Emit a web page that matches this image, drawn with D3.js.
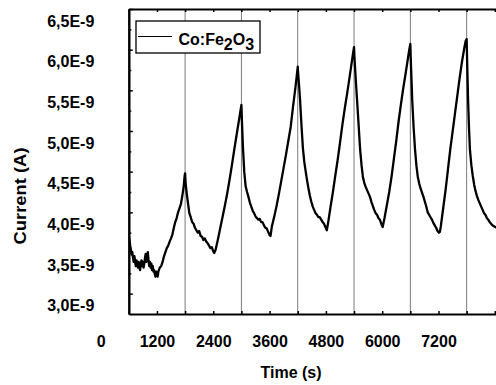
<!DOCTYPE html>
<html>
<head>
<meta charset="utf-8">
<script src="https://cdn.jsdelivr.net/npm/d3@7"></script>
<style>
	body { margin: 0; background: #fff; }
	svg { display: block; }
	text { font-family: 'Liberation Sans', Arial, sans-serif; font-weight: bold; font-size: 16px; fill: #000; }
</style>
</head>
<body>
<div id="vis"></div>
<script>
// DATA (time in s, current in nA = E-9 A)
let timeS = [
	600, 615, 630, 645, 660, 675, 690, 705, 720, 735, 750, 765, 780, 795, 810, 825, 840, 855, 870, 885,
	900, 915, 930, 945, 960, 975, 990, 1005, 1020, 1035, 1050, 1065, 1080, 1095, 1110, 1125, 1140, 1155, 1170, 1185,
	1200, 1215, 1230, 1260, 1290, 1320, 1350, 1380, 1410, 1440, 1470, 1500, 1530, 1560, 1590, 1620, 1650, 1680, 1710, 1740,
	1770, 1790, 1800, 1810, 1830, 1860, 1890, 1920, 1950, 1980, 2010, 2040, 2070, 2100, 2130, 2160, 2190, 2220, 2250, 2280,
	2310, 2340, 2370, 2400, 2420, 2450, 2500, 2550, 2600, 2650, 2700, 2750, 2800, 2850, 2900, 2950, 2980, 3000, 3010, 3030,
	3060, 3090, 3120, 3150, 3180, 3210, 3240, 3270, 3300, 3330, 3360, 3390, 3420, 3450, 3480, 3510, 3540, 3570, 3600, 3620,
	3650, 3700, 3750, 3800, 3850, 3900, 3950, 4000, 4050, 4100, 4150, 4180, 4200, 4210, 4230, 4250, 4280, 4310, 4340, 4370,
	4400, 4430, 4460, 4490, 4520, 4550, 4580, 4610, 4640, 4670, 4700, 4730, 4760, 4790, 4820, 4850, 4900, 4950, 5000, 5050,
	5100, 5150, 5200, 5250, 5300, 5350, 5380, 5400, 5410, 5440, 5470, 5500, 5530, 5560, 5590, 5620, 5650, 5680, 5710, 5740,
	5770, 5800, 5830, 5860, 5890, 5920, 5950, 5980, 6010, 6050, 6100, 6150, 6200, 6250, 6300, 6350, 6400, 6450, 6500, 6550,
	6580, 6600, 6610, 6640, 6670, 6700, 6730, 6760, 6790, 6820, 6850, 6880, 6910, 6940, 6970, 7000, 7030, 7060, 7090, 7120,
	7150, 7180, 7210, 7230, 7250, 7300, 7350, 7400, 7450, 7500, 7550, 7600, 7650, 7700, 7750, 7780, 7800, 7810, 7830, 7850,
	7870, 7900, 7930, 7960, 7990, 8020, 8050, 8080, 8110, 8140, 8170, 8200, 8230, 8260, 8290, 8320, 8350, 8380, 8410, 8440
];
let currentNA = [
	3.71, 3.66, 3.59, 3.54, 3.48, 3.51, 3.44, 3.39, 3.46, 3.39, 3.34, 3.41, 3.37, 3.32, 3.39, 3.34, 3.29, 3.37, 3.41, 3.34,
	3.39, 3.32, 3.37, 3.44, 3.49, 3.39, 3.46, 3.51, 3.41, 3.34, 3.39, 3.32, 3.37, 3.29, 3.34, 3.27, 3.29, 3.24, 3.21, 3.27,
	3.23, 3.21, 3.27, 3.32, 3.34, 3.39, 3.46, 3.51, 3.56, 3.59, 3.64, 3.68, 3.73, 3.81, 3.88, 3.93, 4.00, 4.05, 4.10, 4.20,
	4.32, 4.45, 4.48, 4.37, 4.25, 4.12, 3.99, 3.94, 3.88, 3.86, 3.81, 3.78, 3.75, 3.77, 3.71, 3.70, 3.66, 3.68, 3.64, 3.62,
	3.59, 3.56, 3.57, 3.52, 3.50, 3.54, 3.67, 3.81, 3.95, 4.09, 4.24, 4.41, 4.59, 4.78, 4.96, 5.14, 5.25, 5.32, 5.14, 4.83,
	4.50, 4.32, 4.25, 4.19, 4.12, 4.07, 4.02, 3.99, 3.95, 3.93, 3.91, 3.92, 3.88, 3.88, 3.84, 3.81, 3.80, 3.76, 3.72, 3.71,
	3.83, 3.95, 4.08, 4.23, 4.39, 4.55, 4.71, 4.88, 5.05, 5.30, 5.53, 5.68, 5.79, 5.70, 5.55, 5.38, 5.07, 4.79, 4.62, 4.50,
	4.39, 4.29, 4.20, 4.13, 4.07, 4.03, 3.99, 3.97, 3.94, 3.94, 3.91, 3.88, 3.86, 3.82, 3.78, 3.88, 4.07, 4.25, 4.45, 4.64,
	4.85, 5.07, 5.27, 5.45, 5.64, 5.84, 5.96, 6.03, 5.90, 5.60, 5.33, 5.05, 4.77, 4.58, 4.43, 4.36, 4.31, 4.27, 4.23, 4.19,
	4.13, 4.08, 4.03, 3.99, 3.97, 3.93, 3.91, 3.86, 3.82, 3.93, 4.09, 4.25, 4.44, 4.66, 4.88, 5.12, 5.33, 5.53, 5.71, 5.90,
	6.01, 6.07, 5.87, 5.38, 5.04, 4.77, 4.57, 4.43, 4.35, 4.29, 4.24, 4.19, 4.13, 4.07, 4.00, 3.97, 3.94, 3.91, 3.87, 3.84,
	3.81, 3.77, 3.75, 3.76, 3.83, 4.05, 4.27, 4.52, 4.77, 4.99, 5.21, 5.43, 5.65, 5.85, 6.02, 6.11, 6.13, 5.87, 5.38, 5.04,
	4.77, 4.58, 4.45, 4.34, 4.26, 4.20, 4.15, 4.11, 4.07, 4.03, 3.99, 3.97, 3.93, 3.91, 3.88, 3.86, 3.84, 3.83, 3.82, 3.81
];
let lightOffTimes = [1800, 3000, 4200, 5400, 6600, 7800];
let xTickLabels = [0, 1200, 2400, 3600, 4800, 6000, 7200];
let yTickLabels = [3.0, 3.5, 4.0, 4.5, 5.0, 5.5, 6.0, 6.5];
let xLabel = 'Time (s)',
	yLabel = 'Current (A)';

let chart = () => {
	// PARAMETERS
	let width = 496,
		height = 385,
		plot = { left: 128.8, right: 499.5, top: 9, bottom: 314 };

	let points = timeS.map((t, i) => [t, currentNA[i]]);

	// SCALES
	let x = d3.scaleLinear().domain([600, 8500]).range([plot.left, plot.right]),
		y = d3.scaleLinear().domain([2.75, 6.5]).range([plot.bottom, plot.top]);

	let svg = d3
		.select('#vis')
		.append('svg')
		.attr('width', width)
		.attr('height', height);

	svg.append('defs')
		.append('clipPath')
		.attr('id', 'clip')
		.append('rect')
		.attr('x', plot.left)
		.attr('y', plot.top)
		.attr('width', plot.right - plot.left)
		.attr('height', plot.bottom - plot.top);

	// LIGHT SWITCH LINES
	svg.append('g')
		.selectAll('line')
		.data(lightOffTimes)
		.enter()
		.append('line')
		.attr('x1', d => x(d))
		.attr('x2', d => x(d))
		.attr('y1', plot.top)
		.attr('y2', plot.bottom)
		.attr('stroke', '#7a7a7a')
		.attr('stroke-width', 1);

	// CURVE
	svg.append('path')
		.datum(points)
		.attr('clip-path', 'url(#clip)')
		.attr('fill', 'none')
		.attr('stroke', '#000')
		.attr('stroke-width', 2.3)
		.attr('stroke-linejoin', 'round')
		.attr('d', d3.line().x(d => x(d[0])).y(d => y(d[1])));

	// AXES (ticks inward)
	let xTicks = d3.range(600, 8500, 600),
		yMajor = yTickLabels,
		yMinor = d3.range(3.25, 6.5, 0.5);

	let styleAxis = g => {
		g.select('.domain').attr('stroke-width', 2);
		g.selectAll('.tick line').attr('stroke-width', 1.5);
		g.selectAll('.tick text').remove();
	};

	svg.append('g')
		.attr('transform', `translate(0, ${plot.bottom})`)
		.call(d3.axisBottom(x).tickValues(xTicks).tickSize(-3).tickSizeOuter(0))
		.call(styleAxis);
	svg.append('g')
		.attr('transform', `translate(0, ${plot.top})`)
		.call(d3.axisTop(x).tickValues(xTicks).tickSize(-3).tickSizeOuter(0))
		.call(styleAxis);
	svg.append('g')
		.attr('transform', `translate(${plot.left}, 0)`)
		.call(d3.axisLeft(y).tickValues(yMajor).tickSize(-4).tickSizeOuter(0))
		.call(styleAxis);
	svg.append('g')
		.attr('transform', `translate(${plot.left}, 0)`)
		.call(d3.axisLeft(y).tickValues(yMinor).tickSize(-2.5).tickSizeOuter(0))
		.call(styleAxis);

	// TICK LABELS
	let xLabels = svg.append('g')
		.attr('transform', `translate(0, ${plot.bottom})`)
		.call(d3.axisBottom(x).tickValues(xTickLabels).tickSize(0).tickPadding(21.5).tickFormat(d3.format('d')));
	xLabels.select('.domain').remove();

	let yLabels = svg.append('g')
		.attr('transform', `translate(${plot.left}, 12)`)
		.call(d3.axisLeft(y).tickValues(yTickLabels).tickSize(0).tickPadding(34.5)
			.tickFormat(d => d3.format('.1f')(d).replace('.', ',') + 'E-9'));
	yLabels.select('.domain').remove();

	svg.selectAll('.tick text')
		.attr('font-family', null)
		.attr('font-size', null)
		.attr('fill', '#000');

	// AXIS TITLES
	svg.append('text')
		.attr('x', 291)
		.attr('y', 378)
		.attr('text-anchor', 'middle')
		.text(xLabel);

	svg.append('text')
		.attr('transform', 'translate(26, 196) rotate(-90)')
		.attr('text-anchor', 'middle')
		.attr('textLength', 97)
		.attr('lengthAdjust', 'spacingAndGlyphs')
		.text(yLabel);

	// LEGEND
	let legend = svg.append('g');
	legend.append('rect')
		.attr('x', 136)
		.attr('y', 21)
		.attr('width', 124)
		.attr('height', 32)
		.attr('fill', '#fff')
		.attr('stroke', '#000')
		.attr('stroke-width', 1.3);
	legend.append('line')
		.attr('x1', 138)
		.attr('x2', 172)
		.attr('y1', 36.5)
		.attr('y2', 36.5)
		.attr('stroke', '#000')
		.attr('stroke-width', 1);
	let label = legend.append('text')
		.attr('x', 178.5)
		.attr('y', 45);
	label.append('tspan').text('Co:Fe');
	label.append('tspan').attr('dy', 5).text('2');
	label.append('tspan').attr('dy', -5).text('O');
	label.append('tspan').attr('dy', 5).text('3');
};

chart();
</script>
</body>
</html>
